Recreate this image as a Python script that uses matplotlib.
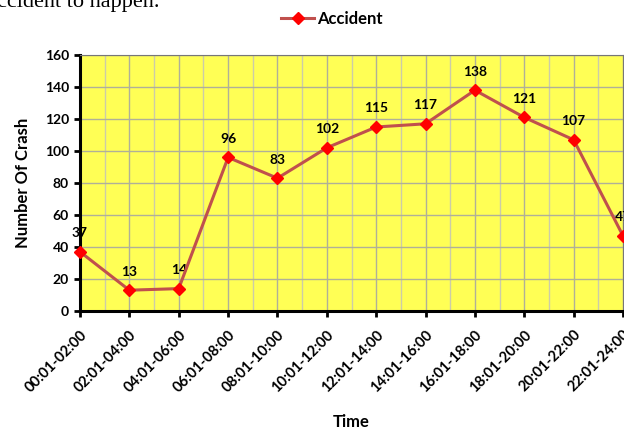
import matplotlib
matplotlib.use('Agg')
import matplotlib.pyplot as plt
from matplotlib.ticker import MultipleLocator

time_slots = ['00:01-02:00', '02:01-04:00', '04:01-06:00', '06:01-08:00',
              '08:01-10:00', '10:01-12:00', '12:01-14:00', '14:01-16:00',
              '16:01-18:00', '18:01-20:00', '20:01-22:00', '22:01-24:00']
crashes = [37, 13, 14, 96, 83, 102, 115, 117, 138, 121, 107, 47]

plt.rcParams['font.family'] = ['Lato', 'DejaVu Sans']

fig = plt.figure(figsize=(6.24, 4.32), dpi=100)
ax = fig.add_axes([80 / 624, 1 - 311 / 432, 543 / 624, 256 / 432])
ax.set_facecolor('#FFFF55')

x = list(range(len(time_slots)))
line, = ax.plot(x, crashes, color='#C0504D', lw=2.2, marker='D', ms=6,
                mfc='red', mec='red', clip_on=False, zorder=5, label='Accident')

for xi, v in zip(x, crashes):
    ax.annotate(str(v), (xi, v), xytext=(0, 9), textcoords='offset points',
                ha='center', va='bottom', fontsize=10, fontweight='bold')

ax.set_xlim(0, len(time_slots) - 1)
ax.set_ylim(0, 160)
ax.yaxis.set_major_locator(MultipleLocator(20))
ax.set_xticks(x)
ax.set_xticklabels(time_slots, rotation=45, ha='right', rotation_mode='anchor',
                   fontsize=10.5, fontweight='bold')
ax.xaxis.set_minor_locator(MultipleLocator(0.5))
for lbl in ax.get_yticklabels():
    lbl.set_fontweight('bold')
    lbl.set_fontsize(10)

ax.grid(True, which='major', color='#B0B098', lw=1)
ax.grid(True, which='minor', axis='x', color='#CCCCA8', lw=1)
ax.set_axisbelow(True)
ax.tick_params(axis='x', which='major', direction='out', length=4, width=2, pad=8)
ax.tick_params(axis='y', which='major', direction='out', length=4, width=2, pad=4)
ax.tick_params(axis='x', which='minor', length=0)
for side in ['left', 'bottom']:
    ax.spines[side].set_linewidth(2.2)
for side in ['top', 'right']:
    ax.spines[side].set_color('#777777')

ax.set_ylabel('Number Of Crash', fontsize=12, fontweight='bold', labelpad=10)
ax.set_xlabel('Time', fontsize=12, fontweight='bold', labelpad=14)

fig.legend(handles=[line], loc='center', bbox_to_anchor=(332 / 624, 1 - 19 / 432),
           frameon=False, prop={'weight': 'bold', 'size': 12},
           handlelength=2, handletextpad=0.2)

fig.text(-0.005, 0.995, 'ccident to happen.', family='Liberation Serif', fontsize=16,
         ha='left', va='center')

fig.savefig('out.png', dpi=100)
